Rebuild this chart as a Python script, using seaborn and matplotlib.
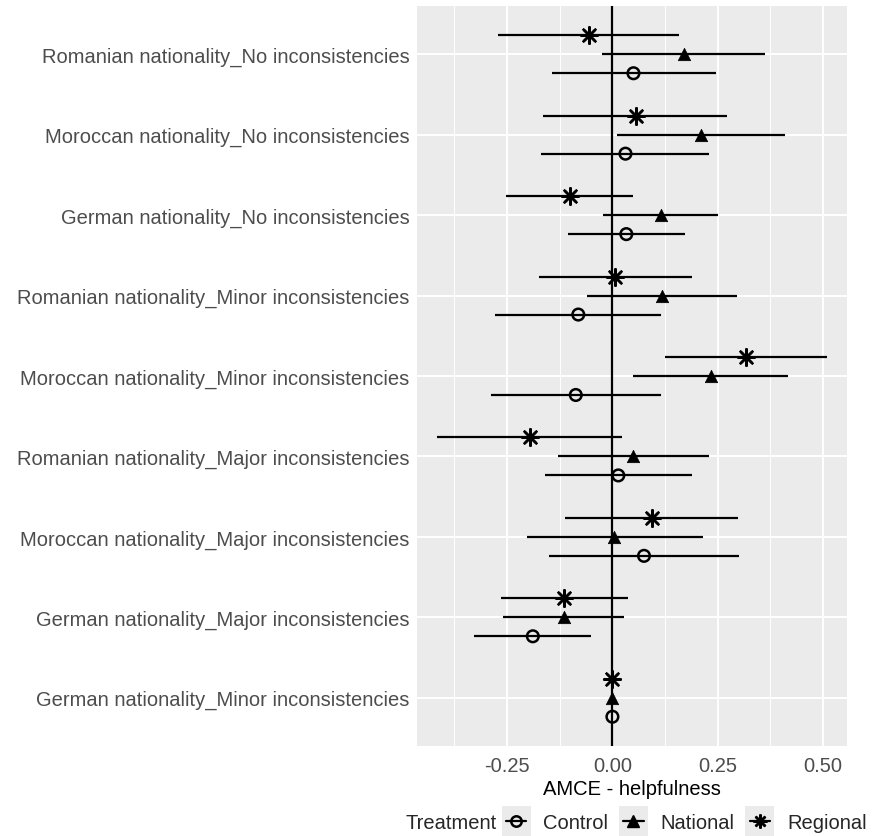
import numpy as np
import pandas as pd
import matplotlib
matplotlib.use("Agg")
import matplotlib.pyplot as plt
from matplotlib.lines import Line2D
from matplotlib.patches import Rectangle
from matplotlib.ticker import FixedLocator, FormatStrFormatter
import seaborn as sns

# categories, top to bottom
categories = [
    "Romanian nationality_No inconsistencies",
    "Moroccan nationality_No inconsistencies",
    "German nationality_No inconsistencies",
    "Romanian nationality_Minor inconsistencies",
    "Moroccan nationality_Minor inconsistencies",
    "Romanian nationality_Major inconsistencies",
    "Moroccan nationality_Major inconsistencies",
    "German nationality_Major inconsistencies",
    "German nationality_Minor inconsistencies",
]
treatments = ["Control", "National", "Regional"]

control_est = [0.050, 0.031, 0.033, -0.081, -0.087, 0.014, 0.075, -0.189, 0.0]
control_lo = [-0.144, -0.169, -0.106, -0.278, -0.289, -0.160, -0.150, -0.329, 0.0]
control_hi = [0.245, 0.230, 0.172, 0.116, 0.115, 0.189, 0.300, -0.050, 0.0]

national_est = [0.169, 0.210, 0.115, 0.118, 0.234, 0.050, 0.004, -0.116, 0.0]
national_lo = [-0.024, 0.010, -0.022, -0.060, 0.049, -0.129, -0.203, -0.260, 0.0]
national_hi = [0.362, 0.410, 0.251, 0.295, 0.418, 0.230, 0.216, 0.028, 0.0]

regional_est = [-0.055, 0.055, -0.101, 0.006, 0.317, -0.195, 0.093, -0.115, 0.0]
regional_lo = [-0.271, -0.164, -0.252, -0.175, 0.124, -0.416, -0.112, -0.264, 0.0]
regional_hi = [0.159, 0.273, 0.048, 0.189, 0.509, 0.023, 0.299, 0.036, 0.0]

x_ticks = [-0.25, 0.0, 0.25, 0.50]

frames = []
for name, est, lo, hi in [
    ("Control", control_est, control_lo, control_hi),
    ("National", national_est, national_lo, national_hi),
    ("Regional", regional_est, regional_lo, regional_hi),
]:
    frames.append(pd.DataFrame({"term": categories, "treatment": name,
                                "estimate": est, "lower": lo, "upper": hi}))
df = pd.concat(frames, ignore_index=True)

# dodge: Regional above, National on the line, Control below
dodge = {"Control": 0.236, "National": 0.0, "Regional": -0.236}
df["ypos"] = df["term"].map({c: i for i, c in enumerate(categories)}) + df["treatment"].map(dodge)

sns.set_theme(style="darkgrid")
plt.rcParams["font.family"] = ["Liberation Sans", "DejaVu Sans"]
FS = 14.5

fig, ax = plt.subplots(figsize=(8.76, 8.37), dpi=100)
fig.subplots_adjust(left=417 / 876, right=847 / 876, top=1 - 7 / 837, bottom=1 - 747 / 837)

ax.set_facecolor("#EBEBEB")
ax.set_xlim(-0.464, 0.557)
ax.set_ylim(len(categories) - 1 + 0.6, -0.6)

ax.xaxis.set_major_locator(FixedLocator(x_ticks))
ax.xaxis.set_minor_locator(FixedLocator([-0.375, -0.125, 0.125, 0.375]))
ax.xaxis.set_major_formatter(FormatStrFormatter("%.2f"))
ax.set_yticks(range(len(categories)))
ax.set_yticklabels(categories)
ax.grid(which="major", color="white", lw=1.4)
ax.grid(which="minor", axis="x", color="white", lw=0.7)
ax.set_axisbelow(True)
for s in ax.spines.values():
    s.set_visible(False)

ax.tick_params(axis="both", which="major", length=4, width=1.1, color="#333333",
               labelsize=FS, labelcolor="#4D4D4D", pad=1.5)
ax.tick_params(axis="x", which="major", pad=3)
ax.tick_params(axis="both", which="minor", length=0)

ax.axvline(0, color="black", lw=1.6, zorder=2)

ax.hlines(df["ypos"], df["lower"], df["upper"], color="black", lw=1.6, zorder=3)

styles = {
    "Control": dict(marker="o", s=70, facecolor="none", edgecolor="black", linewidth=1.8),
    "National": dict(marker="^", s=80, color="black", edgecolor="black", linewidth=0.5),
    "Regional": dict(marker=(8, 2, 0), s=140, color="black", linewidth=1.8),
}
for t in treatments:
    sub = df[df["treatment"] == t]
    sns.scatterplot(data=sub, x="estimate", y="ypos", ax=ax, zorder=4, legend=False, **styles[t])

ax.set_ylabel("")
ax.set_xlabel("AMCE - helpfulness", fontsize=FS, color="black", labelpad=3)

# legend along the bottom, running off the right edge as in the reference
handles = [
    Line2D([], [], color="black", lw=1.6, marker="o", markersize=7.5, markerfacecolor="none", markeredgewidth=1.8),
    Line2D([], [], color="black", lw=1.6, marker="^", markersize=8),
    Line2D([], [], color="black", lw=1.6, marker=(8, 2, 0), markersize=10, markeredgewidth=1.8),
]
fig.text(405 / 876, 1 - 824 / 837, "Treatment", fontsize=FS, va="center", ha="left")
leg = fig.legend(handles, treatments, loc="center left", bbox_to_anchor=(506 / 876, 1 - 824 / 837),
                 ncol=3, frameon=False, fontsize=FS, handlelength=1.0, handletextpad=0.85,
                 columnspacing=0.75, borderpad=0, borderaxespad=0)

fig.canvas.draw()
renderer = fig.canvas.get_renderer()
for h in leg.legend_handles:
    bb = h.get_window_extent(renderer)
    cx = (bb.x0 + bb.x1) / 2
    cy = (bb.y0 + bb.y1) / 2
    w, hgt = 29, 30
    fig.patches.append(Rectangle(((cx - w / 2) / fig.bbox.width, (cy - hgt / 2) / fig.bbox.height),
                                 w / fig.bbox.width, hgt / fig.bbox.height,
                                 transform=fig.transFigure, facecolor="#EBEBEB",
                                 edgecolor="none", zorder=0))

fig.savefig("out.png", dpi=100)
